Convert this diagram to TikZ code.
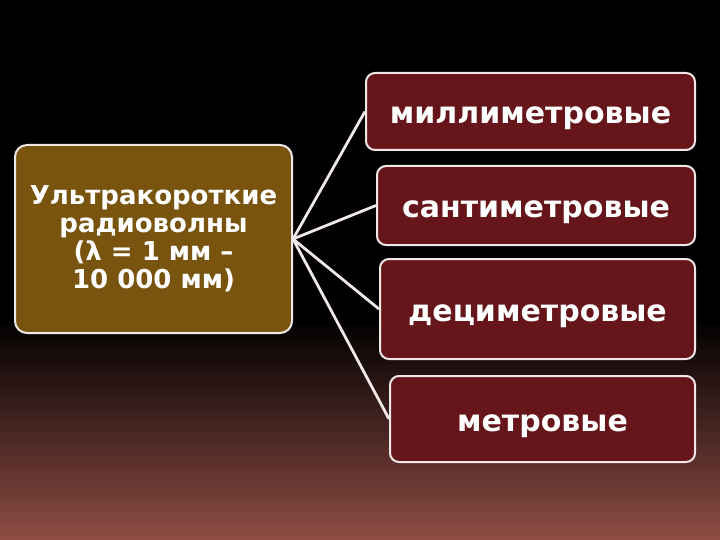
\documentclass[tikz,border=0pt]{standalone}
\usepackage{fontspec}
\setmainfont{DejaVu Sans}
\definecolor{bgred}{RGB}{142,76,68}
\definecolor{boxred}{RGB}{102,22,26}
\definecolor{boxolive}{RGB}{120,84,14}
\definecolor{edgewhite}{RGB}{240,232,232}
\tikzset{
    wave/.style={draw=edgewhite, line width=2pt, rounded corners=9pt, fill=boxred,
        text=white, inner sep=0pt, text height=32pt, text depth=7pt,
        font=\bfseries\fontsize{30}{33}\selectfont},
    uhf/.style={draw=edgewhite, line width=2pt, rounded corners=12pt, fill=boxolive,
        text=white, inner sep=0pt, align=center,
        font=\bfseries\fontsize{26}{28}\selectfont},
    link/.style={draw=edgewhite, line width=2.8pt}
}
\begin{document}
\begin{tikzpicture}[x=1pt, y=-1pt]
        \useasboundingbox (0, 0) rectangle (720, 540);
        \fill[black] (0, 0) rectangle (720, 321);
        \shade[top color=black, bottom color=bgred] (0, 320) rectangle (720, 540);

        \node [uhf, minimum width=277pt, minimum height=188pt] (UHF) at (153.5, 239) {Ультракороткие\\радиоволны\\(λ = 1 мм –\\10 000 мм)};
        \node [wave, minimum width=329pt, minimum height=77pt] (Milli) at (530.5, 111.5) {миллиметровые};
        \node [wave, minimum width=318pt, minimum height=79pt] (Centi) at (536, 205.5) {сантиметровые};
        \node [wave, minimum width=315pt, minimum height=100pt] (Deci) at (537.5, 309) {дециметровые};
        \node [wave, minimum width=305pt, minimum height=86pt] (Metre) at (542.5, 419) {метровые};

        % Edges
        \draw[link] (UHF.east) -- (Milli.west);
        \draw[link] (UHF.east) -- (Centi.west);
        \draw[link] (UHF.east) -- (Deci.west);
        \draw[link] (UHF.east) -- (Metre.west);
    \end{tikzpicture}
\end{document}
